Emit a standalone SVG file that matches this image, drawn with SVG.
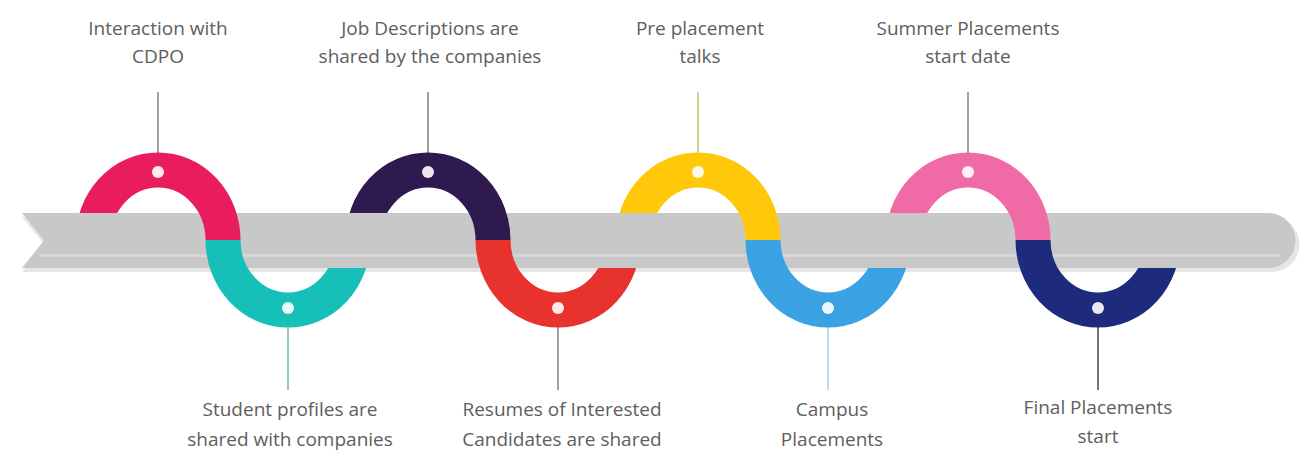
<svg xmlns="http://www.w3.org/2000/svg" width="1300" height="464" viewBox="0 0 1300 464">
<style>
.arc{fill:none;stroke-width:35;stroke-linecap:butt}
.lbl{font-family:"Open Sans","Liberation Sans",sans-serif;font-size:19px;fill:#5e5e5e;text-anchor:middle}
.dot{fill:#fff;opacity:0.9}
.lead{stroke:#808080;stroke-width:1.5;fill:none}
</style>
<defs>
<clipPath id="clipTop" clipPathUnits="objectBoundingBox">
<rect x="-1" y="-1" width="4" height="1.614"/>
<rect x="0.5" y="-1" width="3" height="4"/>
</clipPath>
<clipPath id="clipBot" clipPathUnits="objectBoundingBox">
<rect x="-1" y="0.4" width="4" height="3"/>
<rect x="-1" y="-1" width="1.5" height="4"/>
</clipPath>
</defs>
<rect width="1300" height="464" fill="#fff"/>
<g id="timeline">
<path d="M22 217 H1272 A27.5 27.5 0 0 1 1272 272 H22 L44 244.5 Z" fill="#e6e6e6"/>
<path d="M22 213 H1268 A27.5 27.5 0 0 1 1268 268 H22 L44 240.5 Z" fill="#c8c8c8"/>
<rect x="40" y="254" width="1240" height="3" fill="#d6d6d6"/>
</g>
<g id="connectors">
<line class="lead" x1="158" y1="92" x2="158" y2="170"/>
<line class="lead" x1="428" y1="92" x2="428" y2="170"/>
<line class="lead" x1="698" y1="92" x2="698" y2="170" style="stroke:#c8c070"/>
<line class="lead" x1="968" y1="92" x2="968" y2="170"/>
<line class="lead" x1="288" y1="310" x2="288" y2="390" style="stroke:#6fb5ad"/>
<line class="lead" x1="558" y1="310" x2="558" y2="390"/>
<line class="lead" x1="828" y1="310" x2="828" y2="390" style="stroke:#a8cfe6"/>
<line class="lead" x1="1098" y1="310" x2="1098" y2="390" style="stroke:#444"/>
</g>
<g id="n1">
<path class="arc" d="M93 240 A65 70 0 0 1 223 240" stroke="#e91c5d" clip-path="url(#clipTop)"/>
<circle class="dot" cx="158" cy="172" r="6"/>
<text class="lbl" x="158" y="35">Interaction with</text>
<text class="lbl" x="158" y="63">CDPO</text>
</g>
<g id="n2">
<path class="arc" d="M223 240 A65 70 0 0 0 353 240" stroke="#16c0b8" clip-path="url(#clipBot)"/>
<circle class="dot" cx="288" cy="308" r="6"/>
<text class="lbl" x="290" y="416">Student profiles are</text>
<text class="lbl" x="290" y="446">shared with companies</text>
</g>
<g id="n3">
<path class="arc" d="M363 240 A65 70 0 0 1 493 240" stroke="#2e1a4f" clip-path="url(#clipTop)"/>
<circle class="dot" cx="428" cy="172" r="6"/>
<text class="lbl" x="430" y="35">Job Descriptions are</text>
<text class="lbl" x="430" y="63">shared by the companies</text>
</g>
<g id="n4">
<path class="arc" d="M493 240 A65 70 0 0 0 623 240" stroke="#e8322e" clip-path="url(#clipBot)"/>
<circle class="dot" cx="558" cy="308" r="6"/>
<text class="lbl" x="562" y="416">Resumes of Interested</text>
<text class="lbl" x="562" y="446">Candidates are shared</text>
</g>
<g id="n5">
<path class="arc" d="M633 240 A65 70 0 0 1 763 240" stroke="#ffc80a" clip-path="url(#clipTop)"/>
<circle class="dot" cx="698" cy="172" r="6"/>
<text class="lbl" x="700" y="35">Pre placement</text>
<text class="lbl" x="700" y="63">talks</text>
</g>
<g id="n6">
<path class="arc" d="M763 240 A65 70 0 0 0 893 240" stroke="#3aa2e2" clip-path="url(#clipBot)"/>
<circle class="dot" cx="828" cy="308" r="6"/>
<text class="lbl" x="832" y="416">Campus</text>
<text class="lbl" x="832" y="446">Placements</text>
</g>
<g id="n7">
<path class="arc" d="M903 240 A65 70 0 0 1 1033 240" stroke="#f06aa6" clip-path="url(#clipTop)"/>
<circle class="dot" cx="968" cy="172" r="6"/>
<text class="lbl" x="968" y="35">Summer Placements</text>
<text class="lbl" x="968" y="63">start date</text>
</g>
<g id="n8">
<path class="arc" d="M1033 240 A65 70 0 0 0 1163 240" stroke="#1e2a7c" clip-path="url(#clipBot)"/>
<circle class="dot" cx="1098" cy="308" r="6"/>
<text class="lbl" x="1098" y="414">Final Placements</text>
<text class="lbl" x="1098" y="443">start</text>
</g>
</svg>
